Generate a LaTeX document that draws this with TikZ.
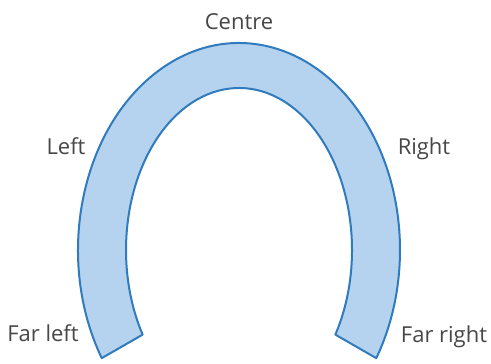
\documentclass[tikz,border=0pt]{standalone}
\usepackage{fontspec}
\setmainfont{Open Sans}
\usetikzlibrary{calc}
\definecolor{shoefill}{HTML}{B5D3EE}
\definecolor{shoeline}{HTML}{2F7BBE}
\definecolor{labeltext}{HTML}{474747}
\begin{document}
\begin{tikzpicture}[x=1pt,y=1pt,
  lbl/.style={font=\fontsize{22}{26}\selectfont, text=labeltext, anchor=base, inner sep=0pt},
  shoe/.style={fill=shoefill, draw=shoeline, line width=2pt, line join=round}]
\useasboundingbox (0,0) rectangle (491,364);
\fill[white] (0,0) rectangle (491,364);
% horseshoe
\coordinate (c) at (239,114);
\draw[shoe] ($(c)+(211.5:161 and 207)$) coordinate (ol)
  arc[start angle=211.5, end angle=-31.5, x radius=161, y radius=207]
  -- ($(c)+(-31.5:113 and 162)$) coordinate (ir)
  arc[start angle=-31.5, end angle=211.5, x radius=113, y radius=162]
  -- cycle;
\node[lbl] (centre) at (239,334) {Centre};
\node[lbl] (left) at (66,209) {Left};
\node[lbl] (right) at (424,209) {Right};
\node[lbl] (farleft) at (43,22) {Far left};
\node[lbl] (farright) at (444,21) {Far right};
\end{tikzpicture}
\end{document}
